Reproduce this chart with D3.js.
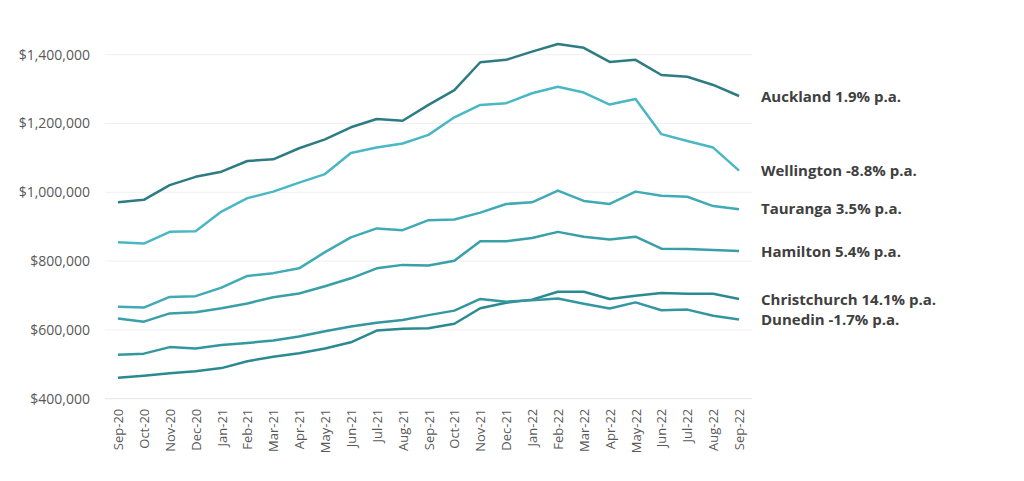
<!DOCTYPE html>
<html>
<head>
<meta charset="utf-8">
<script src="https://cdn.jsdelivr.net/npm/d3@7"></script>
<style>
  body { margin: 0; background: #fff; }
  text { font-family: "Open Sans", sans-serif; }
</style>
</head>
<body>
<div class="chart_area"></div>
<script>
var months = ["Sep-20","Oct-20","Nov-20","Dec-20","Jan-21","Feb-21","Mar-21","Apr-21","May-21",
              "Jun-21","Jul-21","Aug-21","Sep-21","Oct-21","Nov-21","Dec-21","Jan-22","Feb-22",
              "Mar-22","Apr-22","May-22","Jun-22","Jul-22","Aug-22","Sep-22"];

var auckland = [971000,978000,1021000,1045000,1060000,1091000,1096000,1128000,1154000,
                1189000,1213000,1208000,1254000,1297000,1378000,1385000,1409000,1431000,
                1420000,1379000,1385000,1341000,1336000,1312000,1280000];
var wellington = [855000,851000,885000,887000,944000,983000,1002000,1028000,1053000,
                  1114000,1130000,1142000,1167000,1218000,1254000,1259000,1288000,1307000,
                  1290000,1255000,1271000,1169000,1149000,1130000,1063000];
var tauranga = [667000,665000,696000,698000,723000,757000,765000,779000,826000,
                869000,895000,890000,919000,921000,941000,966000,971000,1005000,
                975000,966000,1002000,990000,987000,960000,951000];
var hamilton = [633000,624000,648000,651000,663000,677000,695000,706000,727000,
                750000,779000,789000,787000,801000,858000,858000,867000,885000,
                871000,863000,871000,836000,835000,832000,829000];
var christchurch = [461000,467000,474000,480000,489000,509000,522000,532000,546000,
                    564000,598000,603000,605000,618000,663000,679000,688000,711000,
                    711000,690000,699000,707000,705000,705000,690000];
var dunedin = [528000,531000,550000,546000,556000,562000,569000,581000,596000,
               610000,621000,629000,643000,656000,690000,682000,686000,691000,
               676000,662000,680000,657000,659000,641000,630000];

var yTicks = [400000,600000,800000,1000000,1200000,1400000];

var series = [
  { name: "Auckland 1.9% p.a.", values: auckland, color: "#2d7c83", labelY: 97 },
  { name: "Wellington -8.8% p.a.", values: wellington, color: "#4ab7c4", labelY: 171 },
  { name: "Tauranga 3.5% p.a.", values: tauranga, color: "#40aab6", labelY: 209 },
  { name: "Hamilton 5.4% p.a.", values: hamilton, color: "#399fa9", labelY: 252 },
  { name: "Christchurch 14.1% p.a.", values: christchurch, color: "#2b8a91", labelY: 300 },
  { name: "Dunedin -1.7% p.a.", values: dunedin, color: "#33979f", labelY: 320 }
];

var margin = { left: 105, right: 752, top: 54.7, bottom: 398.7 };

var svg = d3.select(".chart_area")
    .append("svg")
    .attr("width", 1024)
    .attr("height", 481);

var x = d3.scalePoint()
    .domain(months)
    .range([margin.left, margin.right])
    .padding(0.5);

var y = d3.scaleLinear()
    .domain([400000, 1400000])
    .range([margin.bottom, margin.top]);

// gridlines
svg.append("g")
    .selectAll("line")
    .data(yTicks)
    .enter()
    .append("line")
    .attr("x1", margin.left)
    .attr("x2", margin.right)
    .attr("y1", function(d){ return y(d); })
    .attr("y2", function(d){ return y(d); })
    .style("stroke", function(d){ return d === 400000 ? "#e4e4e4" : "#f0f0f0"; })
    .style("stroke-width", 1);

// y axis labels
var yAxis = svg.append("g")
    .attr("transform", "translate(" + (margin.left - 15) + ",0)")
    .call(d3.axisLeft(y).tickValues(yTicks).tickSize(0).tickFormat(d3.format("$,")));
yAxis.select(".domain").remove();
yAxis.selectAll("text")
    .attr("x", 0)
    .style("font-size", "14px")
    .style("fill", "#595959");

// x axis labels
var xAxis = svg.append("g")
    .attr("transform", "translate(0," + (margin.bottom + 10) + ")")
    .call(d3.axisBottom(x).tickSize(0));
xAxis.select(".domain").remove();
xAxis.selectAll("text")
    .attr("transform", "rotate(-90)")
    .attr("x", 0)
    .attr("y", 0)
    .attr("dy", "0.35em")
    .style("text-anchor", "end")
    .style("font-size", "13px")
    .style("fill", "#595959");

var line = d3.line()
    .x(function(d, i){ return x(months[i]); })
    .y(function(d){ return y(d); });

svg.append("g")
    .selectAll("path")
    .data(series)
    .enter()
    .append("path")
    .attr("d", function(d){ return line(d.values); })
    .style("fill", "none")
    .style("stroke", function(d){ return d.color; })
    .style("stroke-width", 2.5)
    .style("stroke-linejoin", "round");

svg.append("g")
    .selectAll("text")
    .data(series)
    .enter()
    .append("text")
    .attr("x", 761)
    .attr("y", function(d){ return d.labelY; })
    .attr("dy", "0.35em")
    .text(function(d){ return d.name; })
    .style("font-size", "15px")
    .style("font-weight", "bold")
    .style("fill", "#404040");
</script>
</body>
</html>
